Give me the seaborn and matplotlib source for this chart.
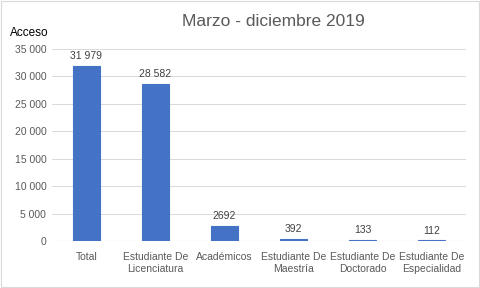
import matplotlib
matplotlib.use("Agg")
import matplotlib.pyplot as plt
import seaborn as sns
import pandas as pd

# data
categories = ["Total", "Estudiante De\nLicenciatura", "Académicos",
              "Estudiante De\nMaestría", "Estudiante De\nDoctorado",
              "Estudiante De\nEspecialidad"]
accesos = [31979, 28582, 2692, 392, 133, 112]
bar_labels = ["31 979", "28 582", "2692", "392", "133", "112"]
yticks = [0, 5000, 10000, 15000, 20000, 25000, 30000, 35000]
ytick_labels = ["0", "5 000", "10 000", "15 000", "20 000", "25 000", "30 000", "35 000"]

df = pd.DataFrame({"cat": categories, "val": accesos})

sns.set_style("white")
plt.rcParams["font.family"] = ["Liberation Sans", "DejaVu Sans"]

fig = plt.figure(figsize=(4.8, 2.88), dpi=100)
ax = fig.add_axes([0.108, 0.163, 0.863, 0.667])

sns.barplot(data=df, x="cat", y="val", color="#4472C4", width=0.4,
            saturation=1, edgecolor="#4472C4", linewidth=0.8, ax=ax)

for i, lab in enumerate(bar_labels):
    ax.text(i, accesos[i] + 900, lab, ha="center", va="bottom",
            fontsize=7.5, color="#404040")

ax.set_ylim(0, 35000)
ax.set_yticks(yticks)
ax.set_yticklabels(ytick_labels)
ax.yaxis.grid(True, color="#D9D9D9", linewidth=0.7)
ax.set_axisbelow(True)
for s in ax.spines.values():
    s.set_visible(False)
ax.axhline(0, color="#D9D9D9", linewidth=0.8, zorder=0)
ax.tick_params(axis="both", length=0, labelsize=7.5, colors="#595959", pad=4)
ax.tick_params(axis="x", pad=8)
ax.set_xlabel("")
ax.set_ylabel("")
ax.set_xlim(-0.5, 5.5)

fig.text(0.569, 0.925, "Marzo - diciembre 2019", ha="center", va="center",
         fontsize=12.5, color="#595959")
fig.text(0.02, 0.885, "Acceso", ha="left", va="center", fontsize=8.5,
         color="black")

fig.patches.append(plt.Rectangle((0.002, 0.003), 0.995, 0.993, transform=fig.transFigure,
                                 fill=False, edgecolor="#D9D9D9", linewidth=0.8))

fig.savefig("out.png", dpi=100)
